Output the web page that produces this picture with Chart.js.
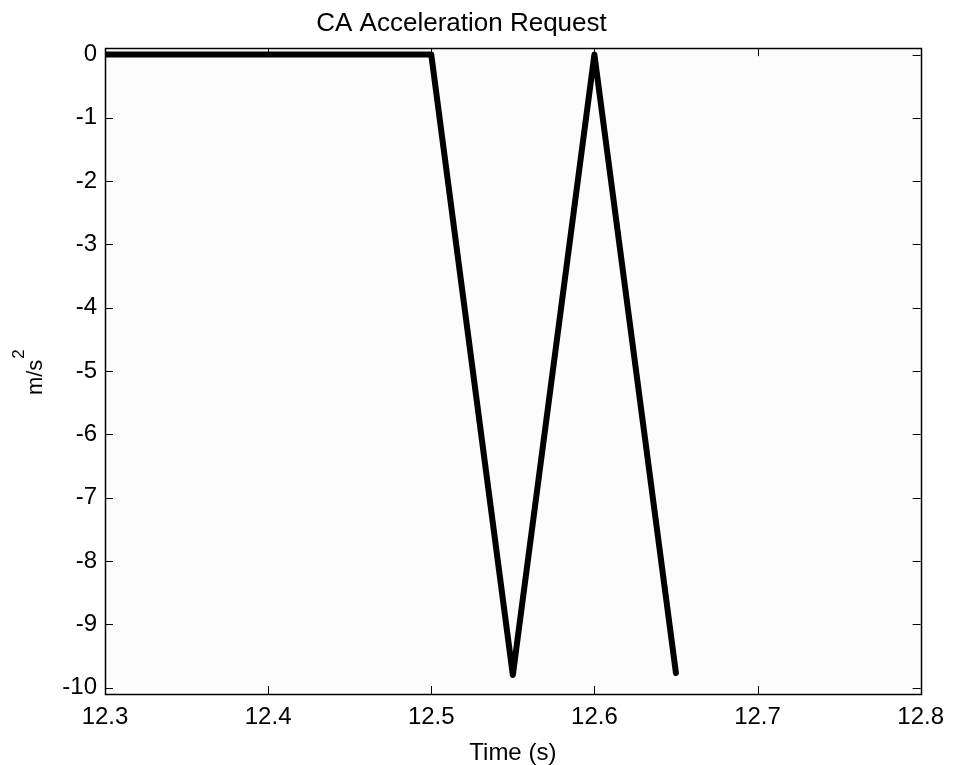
<!DOCTYPE html>
<html>
<head>
<meta charset="utf-8">
<title>CA Acceleration Request</title>
<script src="https://cdn.jsdelivr.net/npm/chart.js@4.4.1/dist/chart.umd.min.js"></script>
<style>
  html, body { margin: 0; padding: 0; background: #fff; }
  #accelChart { display: block; }
</style>
</head>
<body>
<canvas id="accelChart" width="953" height="765"></canvas>
<script>
// sampled request signal
var timeValues  = [12.3, 12.35, 12.4, 12.45, 12.5, 12.55, 12.6, 12.65];
var accelValues = [0, 0, 0, 0, 0, -9.8, 0, -9.77];

var xTicks = [12.3, 12.4, 12.5, 12.6, 12.7, 12.8];
var yTicks = [0, -1, -2, -3, -4, -5, -6, -7, -8, -9, -10];

var fontFamily = '"Liberation Sans", Arial, Helvetica, sans-serif';

// box around the axes, with inward ticks on all four sides (matlab style)
var boxPlugin = {
    id: 'boxPlugin',
    beforeDraw: function(chart) {
        var a = chart.chartArea, ctx = chart.ctx;
        ctx.save();
        ctx.fillStyle = '#fcfcfc';
        ctx.fillRect(a.left, a.top, a.right - a.left, a.bottom - a.top);
        ctx.restore();
    },
    afterDraw: function(chart) {
        var a = chart.chartArea, ctx = chart.ctx;
        var xs = chart.scales.x, ys = chart.scales.y;
        var len = 8;
        ctx.save();
        ctx.strokeStyle = '#000';
        ctx.lineWidth = 1;
        ctx.beginPath();
        xs.ticks.forEach(function(t) {
            var px = Math.round(xs.getPixelForValue(t.value)) + 0.5;
            ctx.moveTo(px, a.bottom); ctx.lineTo(px, a.bottom - len);
            ctx.moveTo(px, a.top);    ctx.lineTo(px, a.top + len);
        });
        ys.ticks.forEach(function(t) {
            var py = Math.round(ys.getPixelForValue(t.value)) + 0.5;
            ctx.moveTo(a.left, py);  ctx.lineTo(a.left + len, py);
            ctx.moveTo(a.right, py); ctx.lineTo(a.right - len, py);
        });
        ctx.stroke();
        ctx.lineWidth = 1.5;
        ctx.strokeRect(Math.round(a.left) + 0.5, Math.round(a.top) + 0.5,
                       Math.round(a.right - a.left), Math.round(a.bottom - a.top));

        // y label: m/s with a raised 2
        var cy = (a.top + a.bottom) / 2;
        ctx.translate(42, cy + 24);
        ctx.rotate(-Math.PI / 2);
        ctx.fillStyle = '#000';
        ctx.textAlign = 'left';
        ctx.textBaseline = 'alphabetic';
        ctx.font = '22px ' + fontFamily;
        ctx.fillText('m/s', 0, 0);
        var w = ctx.measureText('m/s').width;
        ctx.font = '17px ' + fontFamily;
        ctx.fillText('2', w + 1, -18);
        ctx.restore();
    }
};

var points = timeValues.map(function(t, i) {
    return { x: t, y: accelValues[i] };
});

var ctx = document.getElementById('accelChart');

var accelChart = new Chart(ctx, {
    type: 'line',
    data: {
        datasets: [{
            data: points,
            borderColor: '#000',
            borderWidth: 6,
            borderJoinStyle: 'round',
            borderCapStyle: 'round',
            pointRadius: 0,
            fill: false,
            tension: 0
        }]
    },
    options: {
        responsive: false,
        animation: false,
        layout: { padding: { left: 0, right: 30, top: 0, bottom: 0 } },
        plugins: {
            legend: { display: false },
            tooltip: { enabled: false },
            title: {
                display: true,
                text: 'CA Acceleration Request',
                color: '#000',
                font: { family: fontFamily, size: 26, weight: 'normal', lineHeight: 1.2 },
                padding: { top: 8, bottom: 9 }
            }
        },
        scales: {
            x: {
                type: 'linear',
                position: 'bottom',
                min: 12.3,
                max: 12.8,
                grid: { display: false, drawTicks: false },
                border: { display: false },
                afterBuildTicks: function(scale) {
                    scale.ticks = xTicks.map(function(v) { return { value: v }; });
                },
                afterFit: function(scale) { scale.height = 71; },
                ticks: {
                    color: '#000',
                    padding: 9,
                    maxRotation: 0,
                    autoSkip: false,
                    font: { family: fontFamily, size: 24 },
                    callback: function(v) { return Number(v).toFixed(1); }
                },
                title: {
                    display: true,
                    text: 'Time (s)',
                    color: '#000',
                    padding: { top: 0, bottom: 0 },
                    font: { family: fontFamily, size: 24, lineHeight: 1 }
                }
            },
            y: {
                type: 'linear',
                position: 'left',
                min: -10.1,
                max: 0.1,
                grid: { display: false, drawTicks: false },
                border: { display: false },
                afterBuildTicks: function(scale) {
                    scale.ticks = yTicks.map(function(v) { return { value: v }; });
                },
                afterFit: function(scale) { scale.width = 105; },
                ticks: {
                    color: '#000',
                    padding: 8,
                    autoSkip: false,
                    font: { family: fontFamily, size: 24 },
                    callback: function(v) { return String(v); }
                },
                title: { display: false }
            }
        }
    },
    plugins: [boxPlugin]
});
</script>
</body>
</html>
